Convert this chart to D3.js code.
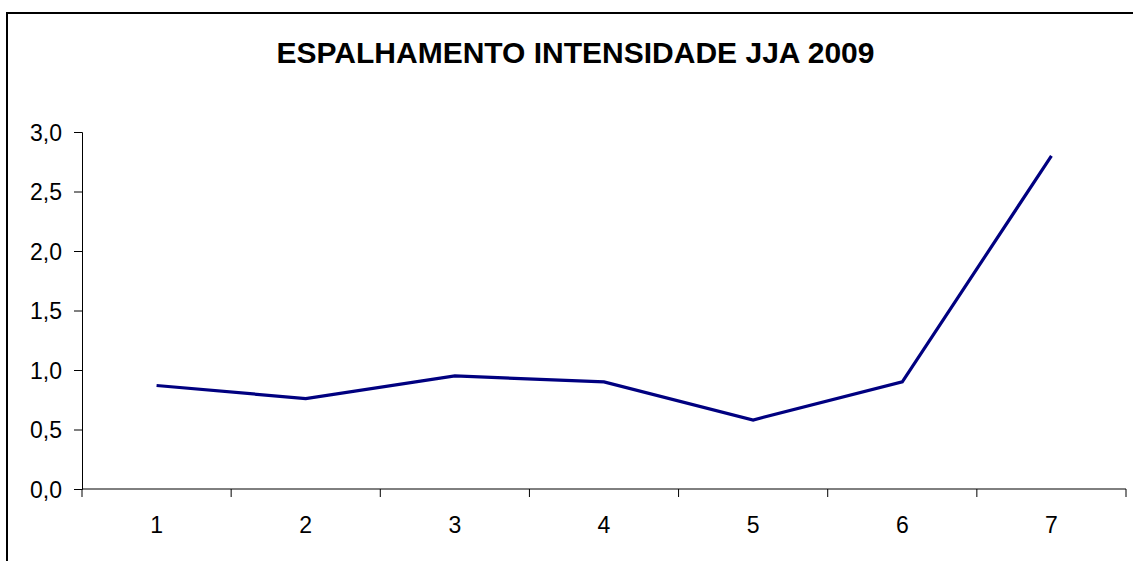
<!DOCTYPE html>
<html>
<head>
<meta charset="utf-8">
<script src="https://cdn.jsdelivr.net/npm/d3@7"></script>
<style>
  body { margin: 0; background: #fff; }
  svg { display: block; font-family: "Liberation Sans", Arial, sans-serif; }
</style>
</head>
<body>
<div id="chart"></div>
<script>
// data
const categories = ["1", "2", "3", "4", "5", "6", "7"];
const values = [0.87, 0.76, 0.95, 0.90, 0.58, 0.90, 2.80];
const yTicks = [0, 0.5, 1.0, 1.5, 2.0, 2.5, 3.0];
const titleText = "ESPALHAMENTO INTENSIDADE JJA 2009";

const width = 1133, height = 561;
const plot = {left: 82, right: 1126, top: 132, bottom: 489};

const svg = d3.select("#chart").append("svg")
    .attr("width", width)
    .attr("height", height);

// outer frame (only left and top edges show in the reference)
svg.append("rect")
    .attr("x", 7)
    .attr("y", 13)
    .attr("width", 1140)
    .attr("height", 600)
    .attr("fill", "none")
    .attr("stroke", "#000")
    .attr("stroke-width", 2);

svg.append("text")
    .attr("x", 575.5)
    .attr("y", 63)
    .attr("text-anchor", "middle")
    .style("font-size", "30px")
    .style("font-weight", "bold")
    .text(titleText);

const x = d3.scaleBand()
    .domain(categories)
    .range([plot.left, plot.right])
    .padding(0);

const y = d3.scaleLinear()
    .domain([0, 3])
    .range([plot.bottom, plot.top]);

// y axis
const yAxis = svg.append("g")
    .attr("transform", `translate(${plot.left},0)`)
    .call(d3.axisLeft(y)
        .tickValues(yTicks)
        .tickSize(8)
        .tickPadding(12)
        .tickFormat(d => d3.format(".1f")(d).replace(".", ",")));

// x axis with tick marks at category boundaries
const xAxis = svg.append("g")
    .attr("transform", `translate(0,${plot.bottom})`)
    .call(d3.axisBottom(x).tickSize(0).tickPadding(28));

const boundaries = categories.map(c => x(c)).concat([plot.right]);
xAxis.selectAll(".bound")
    .data(boundaries)
    .enter().append("line")
    .attr("class", "bound")
    .attr("x1", d => d).attr("x2", d => d)
    .attr("y1", 0).attr("y2", 8)
    .attr("stroke", "#000");

[yAxis, xAxis].forEach(g => {
    g.select(".domain").attr("stroke", "#000").attr("stroke-width", 1);
    g.selectAll(".tick line").attr("stroke", "#000");
    g.selectAll("text")
        .attr("fill", "#000")
        .style("font-size", "23px")
        .style("font-family", "\"Liberation Sans\", Arial, sans-serif");
});
yAxis.selectAll("text").attr("dy", "0.35em");
xAxis.select(".domain").attr("d", `M${plot.left},0H${plot.right}`);

const line = d3.line()
    .x((d, i) => x(categories[i]) + x.bandwidth() / 2)
    .y(d => y(d));

svg.append("path")
    .datum(values)
    .attr("d", line)
    .attr("fill", "none")
    .attr("stroke", "#000080")
    .attr("stroke-width", 3.2)
    .attr("stroke-linejoin", "miter");
</script>
</body>
</html>
